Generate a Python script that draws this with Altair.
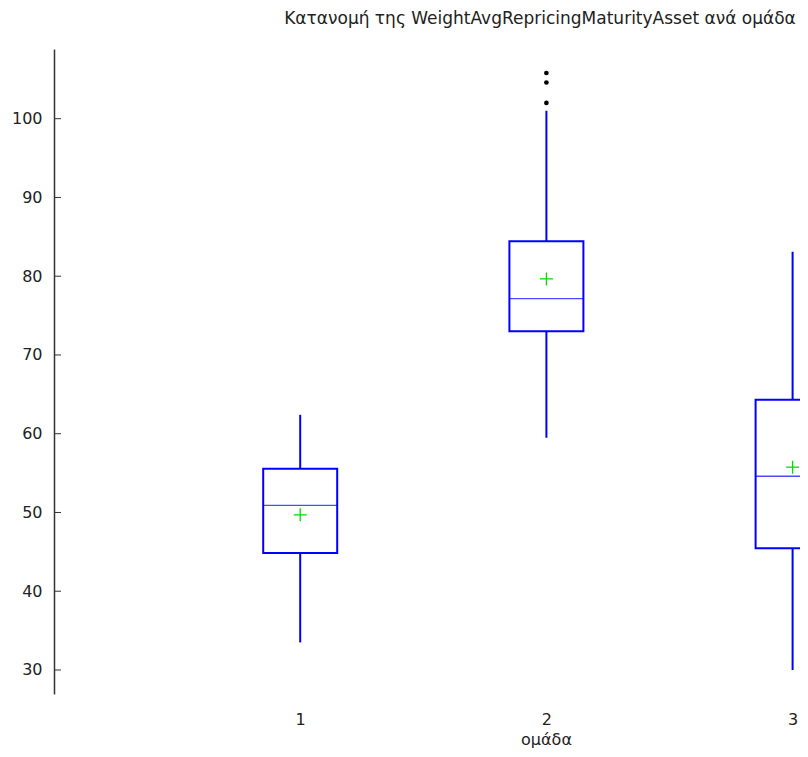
import altair as alt
import pandas as pd

groups = [1, 2, 3]
whisker_low = [33.5, 59.5, 30.0]
q1 = [44.85, 73.0, 45.45]
median = [50.9, 77.15, 54.6]
q3 = [55.55, 84.45, 64.3]
whisker_high = [62.4, 101.0, 83.1]
means = [49.7, 79.65, 55.75]
outlier_group = [2, 2, 2]
outlier_values = [105.8, 104.6, 102.0]
y_ticks = [30, 40, 50, 60, 70, 80, 90, 100]

df = pd.DataFrame({"g": groups, "lo": whisker_low, "q1": q1, "med": median,
                   "q3": q3, "hi": whisker_high, "mean": means})
out = pd.DataFrame({"g": outlier_group, "v": outlier_values})
ticks = pd.DataFrame({"t": y_ticks})

FONT = "DejaVu Sans"
BLUE = "#0000ff"
W = 746

xs = alt.Scale(domain=[0, W / 246.2], nice=False, zero=False, padding=0)
ys = alt.Scale(domain=[26.95, 108.85], nice=False, zero=False, padding=0)

xax = alt.Axis(values=[1, 2, 3], format="d", domain=False, ticks=False, grid=False,
               labelFontSize=16, labelFont=FONT, labelColor="#222",
               labelPadding=17, title="ομάδα", titleFont=FONT, titleFontSize=16,
               titleFontWeight="normal", titleColor="#222", titleX=492, titlePadding=4)
yax = alt.Axis(values=y_ticks, domain=True, domainColor="#333", domainWidth=1.5,
               ticks=False, grid=False, labelFontSize=16, labelFont=FONT,
               labelColor="#222", labelPadding=12, title=None)

base = alt.Chart(df)
whisk = base.mark_rule(color=BLUE, strokeWidth=2).encode(
    x=alt.X("g:Q", scale=xs, axis=xax),
    y=alt.Y("lo:Q", scale=ys, axis=yax),
    y2="hi:Q")
box = base.mark_bar(size=74, fill="white", stroke=BLUE, strokeWidth=2, clip=True).encode(
    x=alt.X("g:Q", scale=xs), y=alt.Y("q1:Q", scale=ys), y2="q3:Q")
med = base.mark_tick(size=74, thickness=1.3, color=BLUE, orient="horizontal", clip=True).encode(
    x=alt.X("g:Q", scale=xs), y=alt.Y("med:Q", scale=ys))
mean = base.mark_point(shape="M-1,0L1,0M0,-1L0,1", size=169, filled=False,
                       stroke="#00dd00", strokeWidth=1.3, opacity=1).encode(
    x=alt.X("g:Q", scale=xs), y=alt.Y("mean:Q", scale=ys))
outs = alt.Chart(out).mark_circle(size=22, color="black", opacity=1).encode(
    x=alt.X("g:Q", scale=xs), y=alt.Y("v:Q", scale=ys))
tk = alt.Chart(ticks).mark_rule(color="#333", strokeWidth=1).encode(
    y=alt.Y("t:Q", scale=ys), x=alt.value(0), x2=alt.value(7))

chart = alt.layer(whisk, box, med, mean, outs, tk).properties(
    width=W, height=645,
    autosize=alt.AutoSizeParams(type="none"),
    padding={"left": 46, "top": 41, "right": 0, "bottom": 55},
    title=alt.TitleParams(text="Κατανομή της WeightAvgRepricingMaturityAsset ανά ομάδα",
                          anchor="middle", dx=113, font=FONT, fontSize=17,
                          fontWeight="normal", color="#222", offset=21),
).configure_view(stroke=None)

chart.save("out.html", embed_options={"renderer": "svg", "actions": False})
